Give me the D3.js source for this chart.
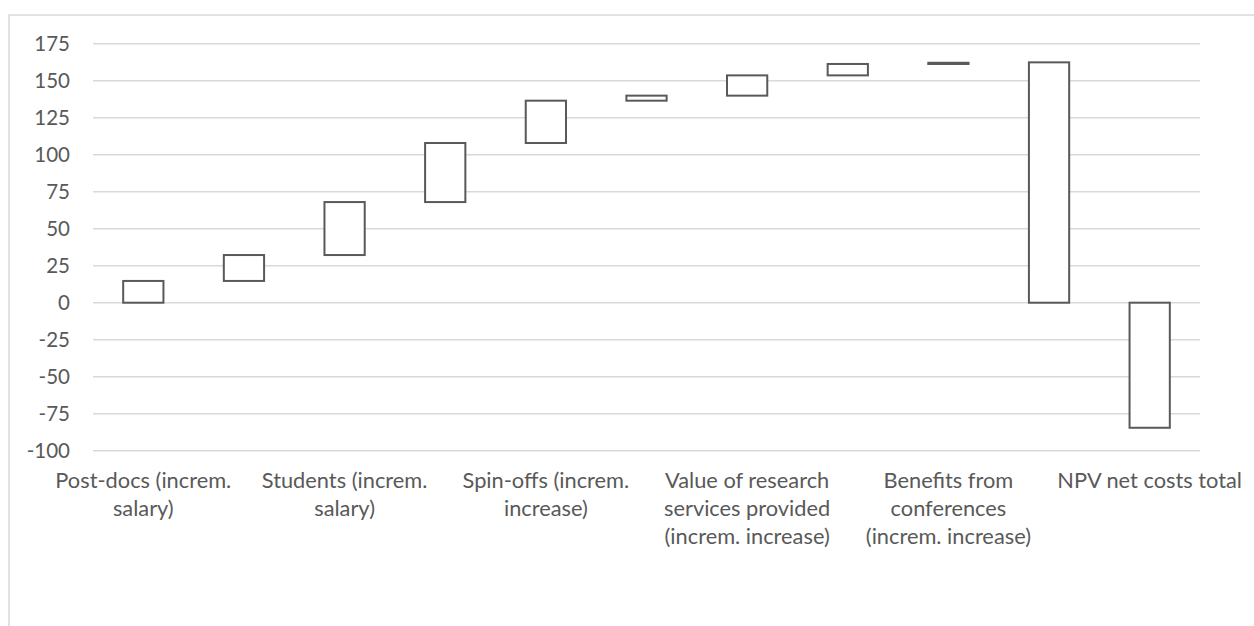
<!DOCTYPE html>
<html>
<head>
<meta charset="utf-8">
<script src="https://cdn.jsdelivr.net/npm/d3@7/dist/d3.min.js"></script>
<style>
  html, body { margin: 0; padding: 0; background: #ffffff; }
  svg { display: block; }
  text { font-family: Lato, "Open Sans", sans-serif; fill: #595959; }
</style>
</head>
<body>
<svg id="chart" width="1254" height="626"></svg>
<script>
// Waterfall steps: incremental benefits, then two totals drawn from zero
const stepValues = [14.7, 17.5, 35.8, 39.9, 28.6, 3.4, 13.7, 7.7, 0.8, 162.4, -84.5];
const barKinds   = ["step", "step", "step", "step", "step", "step", "step", "step", "step", "total", "total"];
// Category labels (only every second category carries a visible label)
const categoryLabels = [
  "Post-docs (increm.\nsalary)", "",
  "Students (increm.\nsalary)", "",
  "Spin-offs (increm.\nincrease)", "",
  "Value of research\nservices provided\n(increm. increase)", "",
  "Benefits from\nconferences\n(increm. increase)", "",
  "NPV net costs total"
];
const yTicks = [-100, -75, -50, -25, 0, 25, 50, 75, 100, 125, 150, 175];

const svg = d3.select("#chart");

// Chart frame
svg.append("rect")
  .attr("x", 9).attr("y", 15)
  .attr("width", 1300).attr("height", 700)
  .attr("fill", "#ffffff")
  .attr("stroke", "#d9d9d9")
  .attr("stroke-width", 1.5);

const plot = { left: 93, right: 1200, top: 43.7, bottom: 450.7 };

const x = d3.scaleBand()
  .domain(d3.range(stepValues.length))
  .range([plot.left, plot.right])
  .paddingInner(0.6)
  .paddingOuter(0.3);

const y = d3.scaleLinear()
  .domain([-100, 175])
  .range([plot.bottom, plot.top]);

// Gridlines
svg.append("g")
  .selectAll("line")
  .data(yTicks)
  .join("line")
  .attr("x1", plot.left).attr("x2", plot.right)
  .attr("y1", d => y(d)).attr("y2", d => y(d))
  .attr("stroke", "#d9d9d9")
  .attr("stroke-width", 1.5);

// Y axis labels (plain hyphen for negatives)
const yAxis = d3.axisLeft(y)
  .tickValues(yTicks)
  .tickFormat(d => String(d))
  .tickSize(0)
  .tickPadding(0);
const yg = svg.append("g")
  .attr("transform", `translate(70,0)`)
  .call(yAxis);
yg.select(".domain").remove();
yg.selectAll("text")
  .attr("font-family", "Lato, 'Open Sans', sans-serif")
  .attr("font-size", 20.5)
  .attr("fill", "#595959");

// Compute bar extents from running totals
let running = 0;
const bars = stepValues.map((v, i) => {
  let start, end;
  if (barKinds[i] === "total") {
    start = 0; end = v;
  } else {
    start = running; end = running + v; running = end;
  }
  return { i, lo: Math.min(start, end), hi: Math.max(start, end) };
});

svg.append("g")
  .selectAll("rect")
  .data(bars)
  .join("rect")
  .attr("x", d => x(d.i))
  .attr("width", x.bandwidth())
  .attr("y", d => y(d.hi))
  .attr("height", d => Math.max(0.5, y(d.lo) - y(d.hi)))
  .attr("fill", "#ffffff")
  .attr("stroke", "#595959")
  .attr("stroke-width", 2);

// Category labels
const labelGroup = svg.append("g")
  .selectAll("text")
  .data(categoryLabels.map((t, i) => ({ t, i })).filter(d => d.t !== ""))
  .join("text")
  .attr("text-anchor", "middle")
  .attr("font-size", 21.8)
  .attr("x", d => x(d.i) + x.bandwidth() / 2)
  .attr("y", 488);

labelGroup.selectAll("tspan")
  .data(d => d.t.split("\n").map(line => ({ line, cx: x(d.i) + x.bandwidth() / 2 })))
  .join("tspan")
  .attr("x", d => d.cx)
  .attr("dy", (d, k) => k === 0 ? 0 : 28)
  .text(d => d.line);
</script>
</body>
</html>
